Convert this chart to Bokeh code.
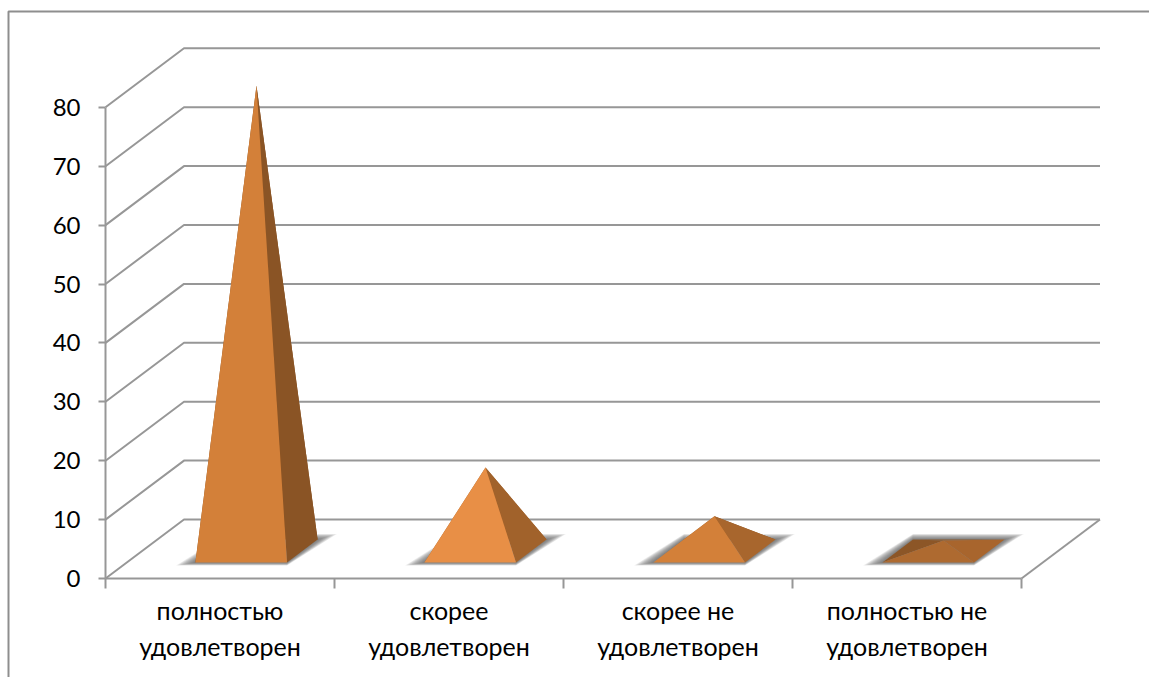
from bokeh.plotting import figure
from bokeh.models import LinearAxis, FixedTicker, Range1d
from bokeh.embed import file_html
from bokeh.resources import INLINE

categories = ["полностью\nудовлетворен", "скорее\nудовлетворен", "скорее не\nудовлетворен", "полностью не\nудовлетворен"]
values = [79.0, 14.2, 5.9, 1.8]
front_colors = ["#D38039", "#E88F46", "#D38039", "#AE6A30"]
right_colors = ["#8A5425", "#A1622B", "#A8662D", "#A8652D"]
hidden_colors = ["#8A5425", "#A1622B", "#8A5425", "#8C5627"]
y_ticks = [0, 10, 20, 30, 40, 50, 60, 70, 80]
cat_ticks = [0.5, 1.5, 2.5, 3.5]
cat_edges = [0, 1, 2, 3, 4]

PX_X = 229.0      # pixels per category
PX_Y = 5.89       # pixels per value unit
X0, Y0 = 105.0, 578.0   # page pixel of the chart origin
L, T, W, H = 0, 0, 1149, 677
DX = 78.5 / PX_X  # depth shift of the back wall
DY = 59.0 / PX_Y
D0, D1 = 0.27, 0.66      # depth span of a pyramid's base
HALF = 0.2               # half width of a pyramid's base
GRID = "#979797"
FONT = "Lato"


def px(xp):
    return (xp - X0) / PX_X


def py(yp):
    return (Y0 - yp) / PX_Y


def P(x, d, v=0.0):
    return (x + d * DX, v + d * DY)


p = figure(width=W, height=H, output_backend="svg", toolbar_location=None,
           x_range=Range1d(px(L), px(L + W)), y_range=Range1d(py(T + H), py(T)),
           x_axis_type=None, y_axis_type=None, min_border=0, outline_line_color=None)
p.grid.visible = False
p.background_fill_color = "white"

# outer frame
p.line([px(8), px(8), px(L + W)], [py(T + H), py(11), py(11)], line_color="#8E8E8E", line_width=2)

# walls
p.multi_line([[0, DX, 4 + DX] for _ in y_ticks],
             [[v, v + DY, v + DY] for v in y_ticks], line_color=GRID, line_width=2)
p.line([4, 4 + DX], [0, DY], line_color=GRID, line_width=2)

# axes
ya = LinearAxis(fixed_location=0, ticker=FixedTicker(ticks=y_ticks), bounds=(0, 80))
ya.axis_line_color = GRID
ya.axis_line_width = 2
ya.major_tick_line_color = GRID
ya.major_tick_line_width = 2
ya.major_tick_out = 7
ya.major_tick_in = 0
ya.minor_tick_line_color = None
ya.major_label_text_font = FONT
ya.major_label_text_font_size = "24px"
ya.major_label_text_color = "black"
ya.major_label_standoff = 18
p.add_layout(ya, "left")

xa = LinearAxis(fixed_location=0, ticker=FixedTicker(ticks=cat_ticks, minor_ticks=cat_edges), bounds=(0, 4))
xa.axis_line_color = GRID
xa.axis_line_width = 2
xa.major_tick_line_color = None
xa.major_tick_out = 0
xa.major_tick_in = 0
xa.minor_tick_line_color = GRID
xa.minor_tick_line_width = 2
xa.minor_tick_out = 10
xa.minor_tick_in = 0
xa.major_label_overrides = {t: c for t, c in zip(cat_ticks, categories)}
xa.major_label_text_font = FONT
xa.major_label_text_font_size = "25px"
xa.major_label_text_color = "black"
xa.major_label_text_line_height = 1.2
xa.major_label_standoff = 6
p.add_layout(xa, "below")

# pyramids
for i, v in enumerate(values):
    c = i + 0.5
    fl, fr = P(c - HALF, D0), P(c + HALF, D0)
    bl, br = P(c - HALF, D1), P(c + HALF, D1)
    apex = P(c, (D0 + D1) / 2, v)
    # soft floor shadow
    for k in range(1, 13):
        e = k * 1.6 / PX_X
        p.patch([fl[0] - e, fr[0], br[0] + e, bl[0]],
                [fl[1] - k * 0.04, fr[1] - k * 0.04, br[1] + k * 0.08, bl[1] + k * 0.08],
                fill_color="#555555", fill_alpha=0.1, line_color=None)
    for a, b, col in [(bl, br, hidden_colors[i]), (fl, bl, hidden_colors[i]),
                      (fr, br, right_colors[i]), (fl, fr, front_colors[i])]:
        p.patch([a[0], b[0], apex[0]], [a[1], b[1], apex[1]], fill_color=col, line_color=None)

open("out.html", "w").write(file_html(p, INLINE))
